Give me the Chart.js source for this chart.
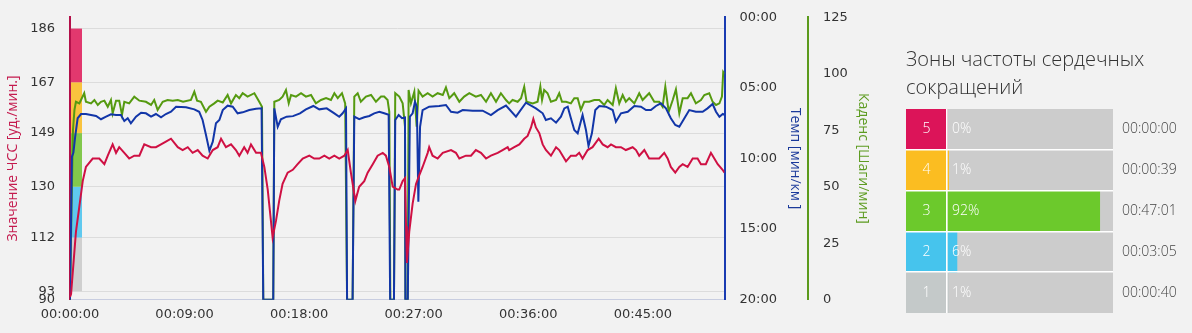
<!DOCTYPE html>
<html lang="ru">
<head>
<meta charset="utf-8">
<title>ЧСС, темп и каденс</title>
<script src="https://cdn.jsdelivr.net/npm/chart.js@4.4.1/dist/chart.umd.min.js"></script>
<style>
    html, body { margin: 0; padding: 0; background: #f2f2f2; }
    body { width: 1192px; height: 333px; position: relative; overflow: hidden; }
    #mainWrap { position: absolute; left: 0; top: 0; width: 880px; height: 333px; }
    #zoneWrap { position: absolute; left: 880px; top: 0; width: 312px; height: 333px; }
</style>
</head>
<body>
<div id="mainWrap"><canvas id="hrChart"></canvas></div>
<div id="zoneWrap"><canvas id="zoneChart"></canvas></div>
<script>
// Heart rate / pace / cadence workout chart

// Heart rate, bpm (time in seconds)
const hrTime = [0, 5, 28, 44, 60, 75, 107, 138, 162, 178,
    201, 217, 232, 256, 279, 303, 327, 350, 382, 405,
    429, 452, 476, 508, 531, 555, 578, 602, 625, 649,
    673, 696, 712, 735, 759, 782, 798, 821, 837, 853,
    877, 900, 916, 932, 947, 955, 971, 986, 1002, 1026,
    1050, 1073, 1097, 1128, 1151, 1175, 1199, 1222, 1246, 1269,
    1293, 1309, 1324, 1345, 1363, 1387, 1403, 1427, 1450, 1474,
    1489, 1505, 1521, 1544, 1552, 1568, 1579, 1584, 1588, 1599,
    1615, 1631, 1646, 1662, 1686, 1693, 1709, 1733, 1757, 1796,
    1819, 1835, 1866, 1890, 1913, 1937, 1961, 1984, 2016, 2039,
    2063, 2070, 2094, 2118, 2141, 2157, 2173, 2184, 2196, 2212,
    2228, 2243, 2267, 2291, 2306, 2322, 2338, 2361, 2385, 2400,
    2416, 2440, 2463, 2492, 2511, 2534, 2550, 2573, 2597, 2620,
    2652, 2668, 2683, 2707, 2730, 2754, 2777, 2801, 2817, 2832,
    2853, 2872, 2888, 2911, 2935, 2958, 2974, 2997, 3021, 3037,
    3053, 3076, 3085];
const hrValues = [91, 92, 114, 123, 132, 137, 140, 140, 138, 141,
    145, 142, 144, 142, 140, 141, 141, 145, 144, 144,
    145, 146, 147, 144, 143, 144, 142, 143, 141, 140,
    143, 144, 147, 144, 145, 143, 141, 144, 142, 145,
    142, 142, 137, 129, 118, 112, 118, 125, 131, 135,
    136, 138, 140, 141, 140, 140, 141, 140, 141, 140,
    141, 143, 135, 125, 130, 132, 135, 138, 141, 142,
    141, 137, 130, 129, 129, 132, 133, 116, 103, 114,
    124, 131, 134, 137, 142, 144, 141, 140, 142, 143,
    142, 140, 141, 141, 143, 142, 140, 141, 142, 143,
    144, 143, 144, 145, 147, 148, 151, 154, 151, 149,
    145, 143, 141, 144, 143, 141, 139, 141, 141, 142,
    140, 143, 144, 147, 145, 144, 145, 144, 144, 143,
    144, 143, 141, 143, 140, 140, 140, 142, 140, 137,
    135, 137, 138, 137, 140, 140, 138, 138, 142, 140,
    138, 136, 135];

// Pace, minutes per km
const paceTime = [0, 9, 16, 24, 36, 52, 75, 99, 123, 146,
    170, 193, 217, 240, 256, 272, 287, 311, 335, 358,
    382, 405, 429, 452, 476, 500, 547, 586, 609, 625,
    641, 657, 673, 688, 704, 720, 743, 767, 790, 814,
    845, 877, 903, 911, 958, 963, 979, 994, 1021, 1051,
    1084, 1112, 1147, 1175, 1210, 1246, 1269, 1285, 1301, 1306,
    1332, 1340, 1363, 1387, 1411, 1434, 1458, 1481, 1502, 1509,
    1527, 1533, 1549, 1565, 1579, 1581, 1592, 1602, 1615, 1626,
    1635, 1642, 1650, 1662, 1693, 1740, 1772, 1796, 1827, 1851,
    1898, 1945, 1984, 2016, 2055, 2102, 2149, 2196, 2228, 2243,
    2267, 2291, 2314, 2330, 2346, 2361, 2377, 2393, 2416, 2432,
    2444, 2460, 2476, 2495, 2526, 2558, 2573, 2597, 2629, 2660,
    2691, 2715, 2738, 2762, 2785, 2809, 2832, 2853, 2872, 2896,
    2919, 2950, 2982, 3005, 3029, 3045, 3061, 3077, 3085];
const paceValues = [20, 9.87, 9.6, 8.5, 7.15, 6.85, 6.85, 6.92, 6.99, 7.22,
    7.04, 6.87, 6.92, 6.92, 7.34, 7.15, 7.51, 7.04, 6.76, 6.8,
    7.04, 6.85, 7.08, 6.85, 6.69, 6.33, 6.37, 6.52, 6.69, 7.27,
    8.34, 9.45, 8.81, 7.51, 7.27, 6.57, 6.26, 6.33, 6.8, 6.73,
    6.57, 6.47, 6.45, 20, 20, 6.45, 7.75, 7.22, 7.04, 7.0,
    6.8, 6.52, 6.28, 6.52, 6.45, 6.8, 7.04, 6.8, 6.45, 20,
    20, 7.04, 7.22, 7.08, 6.99, 6.8, 6.69, 6.8, 6.9, 20,
    20, 7.27, 6.92, 7.15, 7.1, 20, 20, 7.04, 6.8, 5.98,
    6.33, 13.06, 7.75, 6.57, 6.33, 6.28, 6.21, 6.69, 6.76, 6.57,
    6.61, 6.61, 6.92, 6.57, 6.25, 7.04, 6.05, 6.45, 6.8, 7.27,
    7.15, 7.46, 7.04, 6.45, 6.33, 7.15, 7.98, 8.22, 6.92, 7.98,
    9.11, 8.22, 6.57, 6.28, 6.33, 6.57, 7.39, 6.8, 6.69, 6.28,
    6.33, 6.57, 6.57, 6.28, 6.09, 6.45, 7.15, 7.63, 7.75, 7.15,
    6.57, 6.69, 6.69, 6.45, 6.14, 6.69, 7.04, 6.85, 6.9];

// Cadence, steps per minute
const cadTime = [0, 7, 14, 21, 28, 44, 67, 75, 99, 115,
    131, 146, 162, 178, 193, 201, 217, 232, 245, 256,
    279, 303, 327, 358, 382, 397, 413, 437, 460, 484,
    508, 533, 570, 586, 599, 617, 641, 657, 680, 696,
    720, 743, 759, 782, 798, 814, 837, 869, 892, 905,
    911, 958, 963, 986, 1002, 1018, 1031, 1042, 1065, 1089,
    1112, 1136, 1159, 1183, 1207, 1230, 1246, 1262, 1282, 1297,
    1306, 1332, 1340, 1356, 1371, 1395, 1419, 1442, 1466, 1481,
    1497, 1505, 1510, 1527, 1533, 1552, 1568, 1579, 1581, 1592,
    1596, 1607, 1623, 1634, 1643, 1662, 1686, 1709, 1733, 1757,
    1772, 1788, 1811, 1835, 1858, 1882, 1913, 1937, 1961, 1984,
    2008, 2031, 2055, 2070, 2086, 2110, 2126, 2141, 2152, 2181,
    2204, 2217, 2225, 2235, 2251, 2267, 2291, 2306, 2319, 2338,
    2361, 2377, 2393, 2408, 2424, 2447, 2471, 2495, 2518, 2534,
    2558, 2573, 2589, 2605, 2620, 2636, 2660, 2683, 2699, 2730,
    2754, 2777, 2793, 2806, 2822, 2841, 2856, 2872, 2888, 2911,
    2927, 2950, 2974, 2990, 3013, 3029, 3045, 3061, 3073, 3079,
    3085];
const cadValues = [0, 40, 75, 84, 87.6, 86.9, 91.4, 87.6, 86.9, 88.4,
    86.2, 87.6, 88.1, 85.4, 88.4, 82.5, 88.1, 88.1, 81.8, 87.6,
    86.9, 89.9, 88.1, 87.6, 86.2, 88.4, 84.0, 87.6, 88.4, 88.1,
    88.4, 87.6, 88.4, 92.1, 88.1, 87.6, 83.2, 85.4, 86.9, 88.1,
    87.3, 90.6, 86.9, 90.6, 89.2, 91.4, 89.9, 91.4, 87.6, 85.4,
    0, 0, 87.6, 88.4, 89.9, 92.8, 86.9, 90.6, 89.9, 91.4,
    89.9, 90.6, 86.9, 88.4, 89.2, 88.4, 91.4, 89.2, 91.4, 86.9,
    0, 0, 89.9, 91.4, 87.6, 89.9, 90.6, 87.6, 89.9, 89.9,
    88.4, 83.2, 0, 0, 91.4, 89.9, 86.9, 76.6, 0, 0,
    92.8, 86.9, 92.1, 76.6, 92.5, 89.9, 91.4, 89.9, 91.4, 90.6,
    94.0, 89.2, 91.4, 87.6, 89.9, 91.4, 89.9, 90.6, 87.6, 91.4,
    87.6, 91.4, 88.4, 86.9, 88.4, 87.6, 89.2, 94.3, 87.6, 86.9,
    87.6, 94.3, 88.4, 92.8, 91.4, 87.6, 88.4, 91.4, 87.6, 87.6,
    86.9, 89.2, 89.2, 84.0, 87.6, 87.6, 88.4, 88.4, 86.2, 88.4,
    86.2, 93.6, 86.9, 90.6, 87.6, 89.2, 86.9, 91.4, 88.4, 91.4,
    87.6, 87.6, 85.4, 94.3, 83.2, 88.4, 93.1, 82.5, 89.2, 89.2,
    91.4, 86.9, 88.4, 90.6, 91.4, 87.6, 86.2, 86.9, 89.9, 100.8,
    100];

// Axis ticks and heart rate zones
const xTicks = [0, 540, 1080, 1620, 2160, 2700];
const xMax = 3085;
const hrTicks = [90, 93, 112, 130, 149, 167, 186];
const zoneBounds = [93, 112, 130, 149, 167, 186];
const paceTickStep = 5;
const cadTickStep = 25;

// Zone summary panel
const zoneLabels = ['5', '4', '3', '2', '1'];
const zonePercent = [0, 1, 92, 6, 1];
const zoneTimes = ['00:00:00', '00:00:39', '00:47:01', '00:03:05', '00:00:40'];

// Colors
const colors = {
    hr: '#cf1043',
    pace: '#1236a8',
    cadence: '#559a10',
    hrAxis: '#b3104a',
    paceAxis: '#1a3cb2',
    cadAxis: '#5b9a1c',
    hrTitle: '#c41a4e',
    paceTitle: '#1b3a9a',
    cadTitle: '#5e9c22',
    grid: '#dcdcdc',
    baseLine: '#c8cde0',
    text: '#333333'
};
const zoneBandColors = ['#cfcfcf', '#5fc9ef', '#82c84c', '#f9c33e', '#e2386e']; // zone 1..5
const zonePanelColors = ['#dc1459', '#fbbd21', '#6cc92c', '#46c4ed', '#c4c9c9']; // zone 5..1
const zoneTrackColor = '#cccccc';
const zoneCellStart = -24.7;
const noColor = 'rgba(0,0,0,0)';

const tickFont = { family: 'DejaVu Sans', size: 13 };
const titleFont = { family: 'Open Sans', size: 14 };

function pad2(n) {
    return String(n).padStart(2, '0');
}

function formatClock(seconds) {
    const h = Math.floor(seconds / 3600);
    const m = Math.floor((seconds % 3600) / 60);
    const s = Math.round(seconds % 60);
    return pad2(h) + ':' + pad2(m) + ':' + pad2(s);
}

function formatPace(minutes) {
    const m = Math.floor(minutes);
    const s = Math.round((minutes - m) * 60);
    return pad2(m) + ':' + pad2(s);
}

function toPoints(times, values) {
    return times.map((t, i) => ({ x: t, y: values[i] }));
}

// Colored zone strip next to the heart rate axis
const zoneBandsPlugin = {
    id: 'zoneBands',
    beforeDatasetsDraw(chart) {
        const { ctx, chartArea, scales } = chart;
        const y = scales.hr;
        ctx.save();
        for (let i = 0; i < zoneBandColors.length; i++) {
            const top = y.getPixelForValue(zoneBounds[i + 1]);
            const bottom = y.getPixelForValue(zoneBounds[i]);
            ctx.fillStyle = zoneBandColors[i];
            ctx.fillRect(chartArea.left + 1, top, 11, bottom - top);
        }
        ctx.restore();
    }
};

// Zone number and percent written on the panel bars
const zoneTextPlugin = {
    id: 'zoneText',
    afterDatasetsDraw(chart) {
        const { ctx, scales } = chart;
        const cells = chart.getDatasetMeta(2).data;
        const xStart = scales.x.getPixelForValue(zoneCellStart);
        const xZero = scales.x.getPixelForValue(0);
        ctx.save();
        ctx.fillStyle = '#ffffff';
        ctx.font = '300 14px "Open Sans"';
        ctx.textBaseline = 'middle';
        cells.forEach((cell, i) => {
            ctx.textAlign = 'center';
            ctx.fillText(zoneLabels[i], (xStart + xZero) / 2, cell.y);
            ctx.textAlign = 'left';
            ctx.fillText(zonePercent[i] + '%', xZero + 5, cell.y);
        });
        ctx.restore();
    }
};

function renderMainChart() {
    const ctx = document.getElementById('hrChart').getContext('2d');

    new Chart(ctx, {
        type: 'line',
        data: {
            datasets: [{
                label: 'ЧСС',
                data: toPoints(hrTime, hrValues),
                yAxisID: 'hr',
                borderColor: colors.hr,
                borderWidth: 2
            }, {
                label: 'Темп',
                data: toPoints(paceTime, paceValues),
                yAxisID: 'pace',
                borderColor: colors.pace,
                borderWidth: 2
            }, {
                label: 'Каденс',
                data: toPoints(cadTime, cadValues),
                yAxisID: 'cad',
                borderColor: colors.cadence,
                borderWidth: 2
            }]
        },
        options: {
            responsive: true,
            maintainAspectRatio: false,
            animation: false,
            elements: {
                point: { radius: 0 },
                line: { tension: 0 }
            },
            layout: { padding: { top: 17.3, right: 4, bottom: 0, left: 0 } },
            plugins: {
                legend: { display: false },
                tooltip: { enabled: false }
            },
            scales: {
                x: {
                    type: 'linear',
                    min: 0,
                    max: xMax,
                    afterBuildTicks: s => { s.ticks = xTicks.map(v => ({ value: v })); },
                    afterFit: s => { s.height = 33.3; },
                    grid: { display: false, drawTicks: false },
                    border: { color: colors.baseLine, width: 1 },
                    ticks: {
                        padding: 7,
                        maxRotation: 0,
                        autoSkip: false,
                        color: colors.text,
                        font: tickFont,
                        callback: value => formatClock(value)
                    }
                },
                hr: {
                    position: 'left',
                    min: 90,
                    max: 190,
                    afterBuildTicks: s => { s.ticks = hrTicks.map(v => ({ value: v })); },
                    afterFit: s => { s.width = 70; },
                    grid: {
                        tickLength: 15,
                        tickColor: noColor,
                        color: c => (c.tick && c.tick.value === 90) ? noColor : colors.grid
                    },
                    border: { color: colors.hrAxis, width: 2 },
                    ticks: { autoSkip: false, padding: 0, color: colors.text, font: tickFont },
                    title: {
                        display: true,
                        text: 'Значение ЧСС [уд./мин.]',
                        color: colors.hrTitle,
                        font: titleFont,
                        padding: { top: 5, bottom: 0 }
                    }
                },
                pace: {
                    position: 'right',
                    reverse: true,
                    min: 0,
                    max: 20,
                    afterFit: s => { s.width = 83.5; },
                    grid: { drawOnChartArea: false, tickLength: 15, tickColor: noColor },
                    border: { color: colors.paceAxis, width: 2 },
                    ticks: {
                        stepSize: paceTickStep,
                        padding: 0,
                        color: colors.text,
                        font: tickFont,
                        callback: value => formatPace(value)
                    },
                    title: {
                        display: true,
                        text: 'Темп [мин/км ]',
                        color: colors.paceTitle,
                        font: titleFont,
                        padding: { top: 5, bottom: 0 }
                    }
                },
                cad: {
                    position: 'right',
                    min: 0,
                    max: 125,
                    afterFit: s => { s.width = 68; },
                    grid: { drawOnChartArea: false, tickLength: 15, tickColor: noColor },
                    border: { color: colors.cadAxis, width: 2 },
                    ticks: { stepSize: cadTickStep, padding: 0, color: colors.text, font: tickFont },
                    title: {
                        display: true,
                        text: 'Каденс [Шаги/мин]',
                        color: colors.cadTitle,
                        font: titleFont,
                        padding: { top: 5, bottom: 0 }
                    }
                }
            }
        },
        plugins: [zoneBandsPlugin]
    });
}

function renderZoneChart() {
    const ctx = document.getElementById('zoneChart').getContext('2d');

    new Chart(ctx, {
        type: 'bar',
        data: {
            labels: zoneLabels,
            datasets: [{
                label: 'Доля',
                data: zonePercent.map(p => [0, p]),
                backgroundColor: zonePanelColors
            }, {
                label: 'Фон',
                data: zonePercent.map(() => [0, 100]),
                backgroundColor: zoneTrackColor
            }, {
                label: 'Зона',
                data: zonePercent.map(() => [zoneCellStart, 0]),
                backgroundColor: zonePanelColors
            }]
        },
        options: {
            indexAxis: 'y',
            responsive: true,
            maintainAspectRatio: false,
            animation: false,
            datasets: {
                bar: { grouped: false, barPercentage: 1, categoryPercentage: 1, borderWidth: 0 }
            },
            layout: { padding: { top: 0, right: 0, bottom: 20, left: 26 } },
            plugins: {
                legend: { display: false },
                tooltip: { enabled: false },
                title: {
                    display: true,
                    text: ['Зоны частоты сердечных', 'сокращений'],
                    align: 'start',
                    color: colors.text,
                    font: { family: 'Open Sans', size: 20, weight: 300, lineHeight: '28px' },
                    padding: { top: 46, bottom: 7 }
                }
            },
            scales: {
                x: {
                    type: 'linear',
                    min: zoneCellStart,
                    max: 100,
                    afterBuildTicks: s => { s.ticks = [{ value: 0 }]; },
                    afterFit: s => { s.height = 0; },
                    grid: {
                        z: 1,
                        lineWidth: 1.5,
                        drawTicks: false,
                        color: c => (c.tick && c.tick.value === 0) ? '#ffffff' : noColor
                    },
                    border: { display: false },
                    ticks: { display: false }
                },
                y: {
                    position: 'right',
                    offset: true,
                    afterFit: s => { s.width = 79; },
                    grid: {
                        z: 1,
                        offset: true,
                        lineWidth: 1.5,
                        drawTicks: false,
                        color: c => (c.index > 0 && c.index < zoneLabels.length) ? '#ffffff' : noColor
                    },
                    border: { display: false },
                    ticks: {
                        padding: 9,
                        color: '#444444',
                        font: { family: 'Open Sans', size: 14, weight: 300 },
                        callback: (value, index) => zoneTimes[index]
                    }
                }
            }
        },
        plugins: [zoneTextPlugin]
    });
}

renderMainChart();
renderZoneChart();
</script>
</body>
</html>
